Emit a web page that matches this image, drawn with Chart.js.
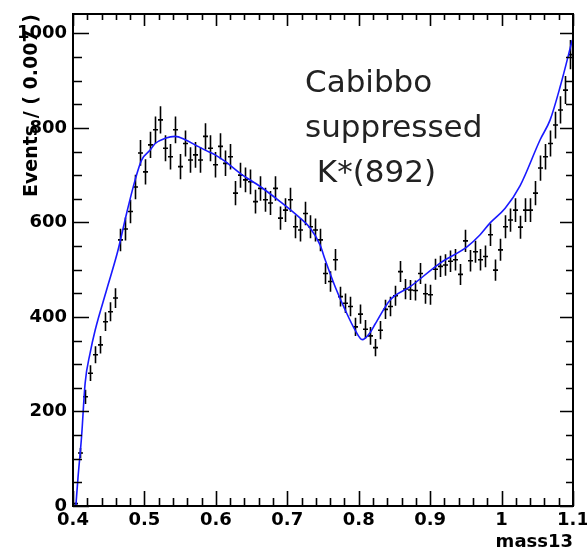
<!DOCTYPE html>
<html>
<head>
<meta charset="utf-8">
<script src="https://cdn.jsdelivr.net/npm/chart.js@4.4.1/dist/chart.umd.min.js"></script>
<style>
  html, body { margin: 0; padding: 0; background: #fff; }
  #wrap { width: 587px; height: 553px; }
</style>
</head>
<body>
<div id="wrap"><canvas id="chart"></canvas></div>
<script>
// histogram of mass13, bins of 0.007 from 0.4 to 1.1
const binWidth = 0.007;
const binStart = 0.4;
const counts = [
  5, 112, 231, 281, 320, 341, 390, 411, 440, 563,
  586, 623, 675, 747, 707, 764, 796, 817, 757, 739,
  796, 718, 767, 732, 743, 732, 782, 757, 722, 761,
  725, 739, 662, 700, 690, 686, 644, 672, 648, 641,
  672, 609, 626, 648, 591, 584, 619, 591, 584, 563,
  492, 475, 521, 443, 429, 422, 379, 406, 374, 360,
  335, 372, 416, 422, 445, 496, 459, 457, 456, 492,
  449, 447, 501, 507, 510, 518, 521, 490, 561, 519,
  538, 521, 528, 574, 499, 542, 591, 605, 626, 590,
  626, 626, 662, 715, 739, 767, 806, 838, 880, 955
];

// fit curve
const fitX = [0.404, 0.407, 0.412, 0.417, 0.424, 0.431, 0.447, 0.463, 0.475, 0.487,
  0.496, 0.508, 0.515, 0.529, 0.543, 0.557, 0.571, 0.585, 0.599, 0.613,
  0.634, 0.662, 0.690, 0.718, 0.732, 0.746, 0.753, 0.767, 0.781, 0.795,
  0.805, 0.815, 0.823, 0.844, 0.872, 0.914, 0.952, 0.970, 0.984, 1.005,
  1.026, 1.054, 1.068, 1.082, 1.099];
const fitY = [0, 60, 147, 260, 324, 372, 457, 541, 619, 690,
  732, 753, 767, 778, 782, 775, 764, 753, 743, 729,
  704, 676, 644, 609, 588, 552, 521, 464, 415, 372,
  352, 365, 385, 436, 464, 514, 549, 574, 599, 630,
  678, 775, 817, 887, 986];

const xTicks = [0.4, 0.5, 0.6, 0.7, 0.8, 0.9, 1.0, 1.1];
const yTicks = [0, 200, 400, 600, 800, 1000];
const xLabels = ["0.4", "0.5", "0.6", "0.7", "0.8", "0.9", "1", "1.1"];

const histPoints = counts.map((c, i) => ({ x: binStart + binWidth * (i + 0.5), y: c }));
const fitPoints = fitX.map((x, i) => ({ x: x, y: fitY[i] }));

// crosses: horizontal = bin width, vertical = sqrt(N)
const errorBars = {
  id: "errorBars",
  beforeDatasetsDraw(chart) {
    const { ctx, chartArea: a, scales: { x, y } } = chart;
    ctx.save();
    ctx.beginPath();
    ctx.rect(a.left, a.top, a.right - a.left, a.bottom - a.top);
    ctx.clip();
    ctx.strokeStyle = "#000";
    ctx.lineWidth = 1.6;
    ctx.beginPath();
    histPoints.forEach(p => {
      const e = Math.sqrt(p.y);
      const px = x.getPixelForValue(p.x);
      const py = y.getPixelForValue(p.y);
      ctx.moveTo(x.getPixelForValue(p.x - binWidth / 2), py);
      ctx.lineTo(x.getPixelForValue(p.x + binWidth / 2), py);
      ctx.moveTo(px, y.getPixelForValue(p.y - e));
      ctx.lineTo(px, y.getPixelForValue(p.y + e));
    });
    ctx.stroke();
    ctx.restore();
  }
};

// ROOT style frame with inward ticks on all four sides
const frameTicks = {
  id: "frameTicks",
  afterDraw(chart) {
    const { ctx, chartArea: a, scales: { x, y } } = chart;
    ctx.save();
    ctx.strokeStyle = "#000";
    ctx.lineWidth = 1.6;
    ctx.beginPath();
    for (let k = 0; k <= 35; k++) {
      const v = 0.4 + k * 0.02;
      const major = k % 5 === 0;
      const px = Math.round(x.getPixelForValue(v)) + 0.5;
      ctx.moveTo(px, a.bottom);
      ctx.lineTo(px, a.bottom - (major ? 15 : 8));
      ctx.moveTo(px, a.top);
      ctx.lineTo(px, a.top + (major ? 12 : 6));
    }
    for (let k = 0; k <= 20; k++) {
      const v = k * 50;
      const major = k % 4 === 0;
      const py = Math.round(y.getPixelForValue(v)) + 0.5;
      ctx.moveTo(a.left, py);
      ctx.lineTo(a.left + (major ? 16 : 9), py);
      ctx.moveTo(a.right, py);
      ctx.lineTo(a.right - (major ? 13 : 7), py);
    }
    ctx.stroke();
    ctx.lineWidth = 2;
    ctx.strokeRect(a.left, a.top, a.right - a.left, a.bottom - a.top);

    // label in the plot
    ctx.fillStyle = "#222";
    ctx.font = "31px 'DejaVu Sans'";
    ctx.textAlign = "left";
    ctx.textBaseline = "alphabetic";
    ctx.fillText("Cabibbo", 305, 92);
    ctx.fillText("suppressed", 305, 137);
    ctx.fillText(" K*(892)", 307, 182);
    ctx.restore();
  }
};

new Chart(document.getElementById("chart"), {
  type: "scatter",
  data: {
    datasets: [
      {
        label: "data",
        data: histPoints,
        pointRadius: 0,
        showLine: false
      },
      {
        type: "line",
        label: "fit",
        data: fitPoints,
        borderColor: "rgb(25,25,255)",
        borderWidth: 1.6,
        pointRadius: 0,
        fill: false,
        cubicInterpolationMode: "monotone"
      }
    ]
  },
  options: {
    responsive: true,
    maintainAspectRatio: false,
    animation: false,
    layout: { padding: { top: 14, right: 14, left: 0, bottom: 0 } },
    plugins: {
      legend: { display: false },
      tooltip: { enabled: false }
    },
    scales: {
      x: {
        type: "linear",
        min: 0.4,
        max: 1.1,
        grid: { display: false, drawTicks: false },
        border: { display: false },
        afterBuildTicks: s => { s.ticks = xTicks.map(v => ({ value: v })); },
        afterFit: s => { s.height = 47; s.paddingLeft = 0; s.paddingRight = 0; },
        ticks: {
          autoSkip: false,
          maxRotation: 0,
          padding: 4,
          color: "#000",
          font: { family: "DejaVu Sans", weight: "bold", size: 18 },
          callback: (v, i) => xLabels[i]
        },
        title: {
          display: true,
          text: "mass13",
          align: "end",
          color: "#000",
          font: { family: "DejaVu Sans", weight: "bold", size: 18 },
          padding: { top: 0, bottom: 0 }
        }
      },
      y: {
        type: "linear",
        min: 0,
        max: 1041,
        grid: { display: false, drawTicks: false },
        border: { display: false },
        afterBuildTicks: s => { s.ticks = yTicks.map(v => ({ value: v })); },
        afterFit: s => { s.width = 73; s.paddingTop = 0; s.paddingBottom = 0; },
        ticks: {
          padding: 6,
          color: "#000",
          font: { family: "DejaVu Sans", weight: "bold", size: 18 },
          callback: v => String(v)
        },
        title: {
          display: true,
          text: "Events / ( 0.007 )",
          align: "end",
          color: "#000",
          font: { family: "DejaVu Sans", weight: "bold", size: 19 },
          padding: { top: 21, bottom: 0 }
        }
      }
    }
  },
  plugins: [errorBars, frameTicks]
});
</script>
</body>
</html>
